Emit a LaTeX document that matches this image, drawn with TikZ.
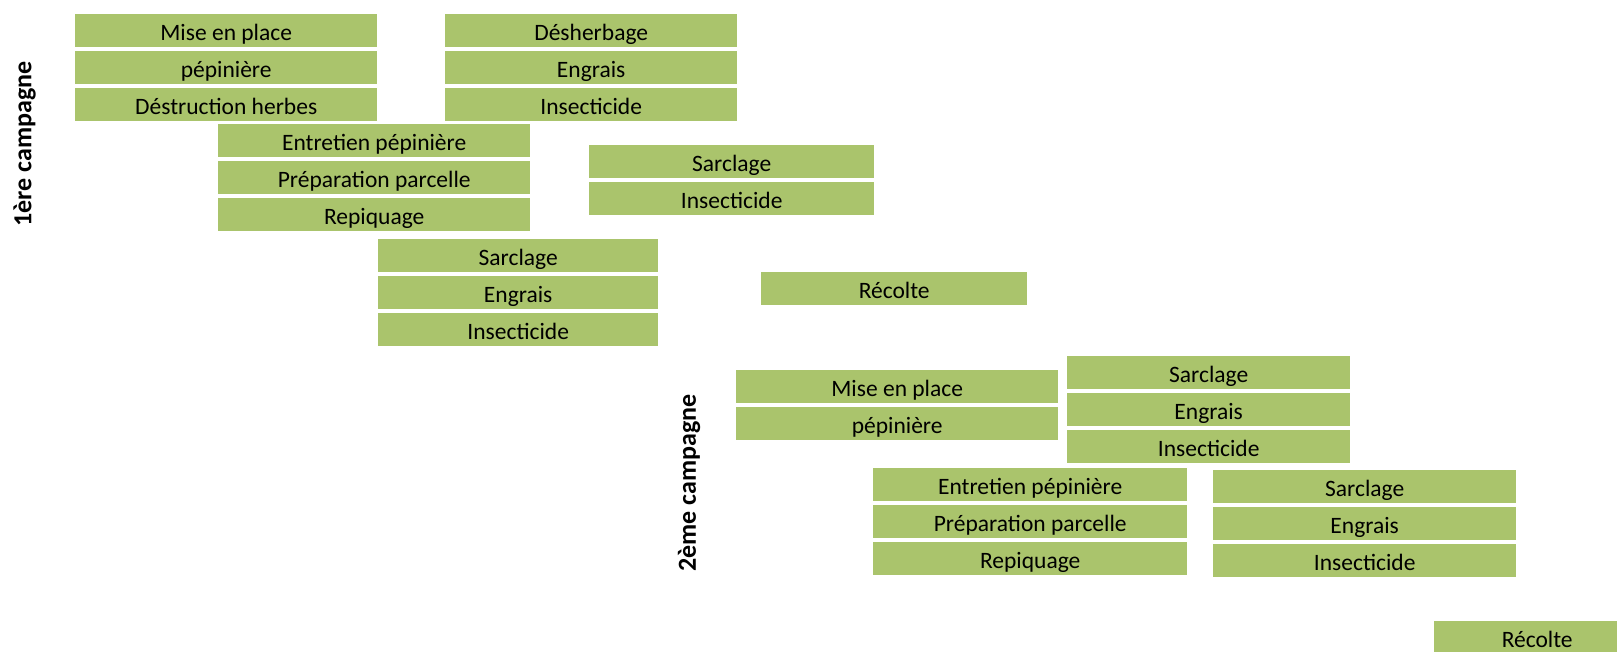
\documentclass[tikz,border=0pt]{standalone}
\usepackage{fontspec}
\setmainfont{Carlito}
\definecolor{boxgreen}{RGB}{170,196,108}
\tikzset{
  task/.style={fill=boxgreen, anchor=north west, inner sep=0pt,
    minimum height=33pt, text height=26.5pt, text depth=6.5pt,
    font=\fontsize{23.5}{26}\selectfont},
  campaign/.style={rotate=90, inner sep=0pt, font=\fontsize{26}{28}\selectfont\bfseries}
}

\begin{document}
\begin{tikzpicture}[x=1pt, y=-1pt]
    \useasboundingbox (0,0) rectangle (1617,651);
    \clip (0,0) rectangle (1617,651);

    % --- 1. 1ère campagne ---
    \node[campaign] (camp1) at (24.5,144) {1ère campagne};

    % mise en place
    \node[task, minimum width=302pt] (mise1) at (75,14) {Mise en place};
    \node[task, minimum width=302pt] (pep1) at (75,51) {pépinière};
    \node[task, minimum width=302pt] (destr1) at (75,88) {Déstruction herbes};

    % entretien
    \node[task, minimum width=312pt] (entr1) at (218,124) {Entretien pépinière};
    \node[task, minimum width=312pt] (prep1) at (218,161) {Préparation parcelle};
    \node[task, minimum width=312pt] (repiq1) at (218,198) {Repiquage};

    % premier traitement
    \node[task, minimum width=280pt] (sarcA1) at (378,239) {Sarclage};
    \node[task, minimum width=280pt] (engrA1) at (378,276) {Engrais};
    \node[task, minimum width=280pt] (insA1) at (378,313) {Insecticide};

    % désherbage
    \node[task, minimum width=292pt] (desh1) at (445,14) {Désherbage};
    \node[task, minimum width=292pt] (engrB1) at (445,51) {Engrais};
    \node[task, minimum width=292pt] (insB1) at (445,88) {Insecticide};

    % second traitement
    \node[task, minimum width=285pt] (sarcC1) at (589,145) {Sarclage};
    \node[task, minimum width=285pt] (insC1) at (589,182) {Insecticide};

    \node[task, minimum width=266pt] (recolte1) at (761,272) {Récolte};

    % --- 2. 2ème campagne ---
    \node[campaign] (camp2) at (689,483) {2ème campagne};

    \node[task, minimum width=322pt] (mise2) at (736,369.5) {Mise en place};
    \node[task, minimum width=322pt] (pep2) at (736,406.5) {pépinière};

    \node[task, minimum width=314pt] (entr2) at (873,468) {Entretien pépinière};
    \node[task, minimum width=314pt] (prep2) at (873,505) {Préparation parcelle};
    \node[task, minimum width=314pt] (repiq2) at (873,542) {Repiquage};

    \node[task, minimum width=283pt] (sarcA2) at (1067,356) {Sarclage};
    \node[task, minimum width=283pt] (engrA2) at (1067,393) {Engrais};
    \node[task, minimum width=283pt] (insA2) at (1067,430) {Insecticide};

    \node[task, minimum width=303pt] (sarcB2) at (1213,470) {Sarclage};
    \node[task, minimum width=303pt] (engrB2) at (1213,507) {Engrais};
    \node[task, minimum width=303pt] (insB2) at (1213,544) {Insecticide};

    \node[task, minimum width=206pt] (recolte2) at (1434,621) {Récolte};

\end{tikzpicture}
\end{document}
